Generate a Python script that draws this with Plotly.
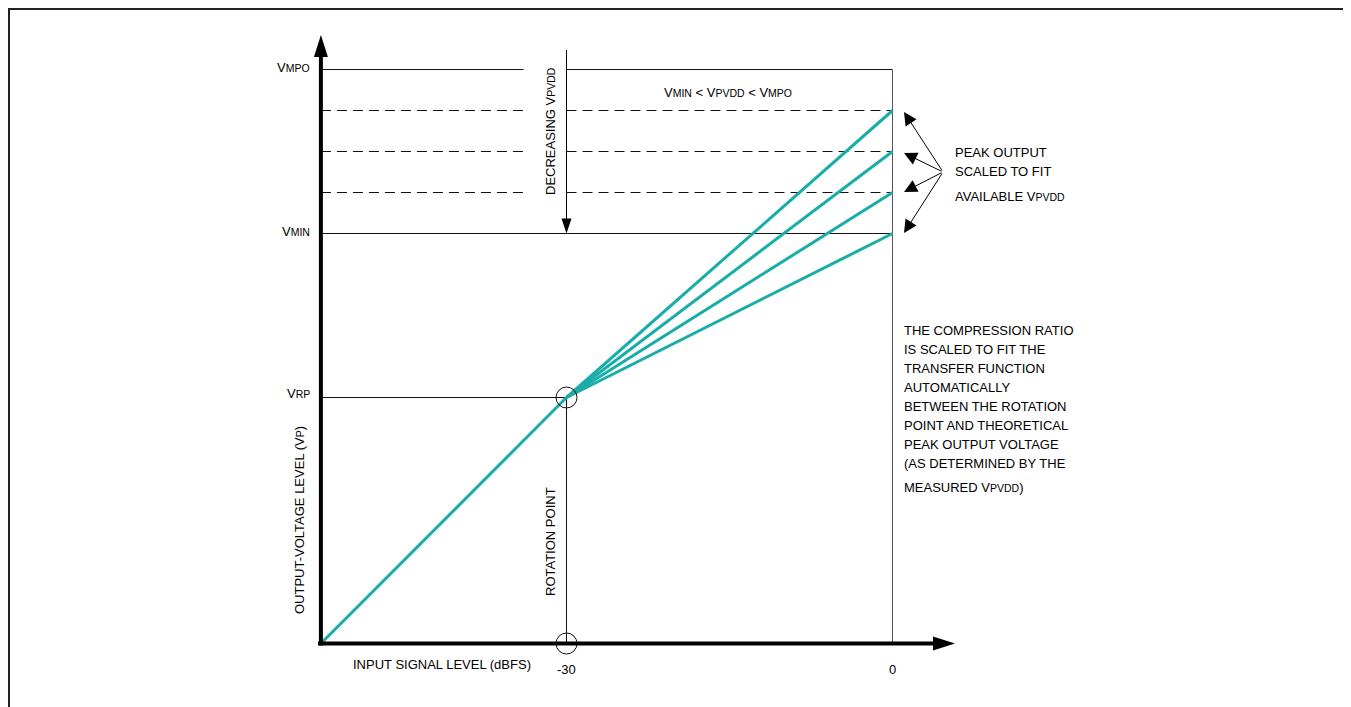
import plotly.graph_objects as go

# ---------------- data (schematic values) ----------------
input_origin_x = -52.6          # dBFS at the axes origin (schematic)
rotation_x = -30                # rotation point input level (dBFS)
full_scale_x = 0                # full-scale input (dBFS)
v_rp = 6                        # rotation-point output level
v_min = 10                      # V_MIN
v_pvdd_levels = [11, 12, 13]    # intermediate V_PVDD levels (dashed)
v_mpo = 14                      # V_MPO
peak_outputs = [10, 11, 12, 13] # peak output at 0 dBFS for each V_PVDD
x_tick_values = [-30, 0]
x_tick_labels = ["-30", "0"]

# ---------------- layout helpers (page pixel -> data) ----------------
OFF = 8                      # page body margin
W, H = 1351 - OFF, 707 - OFF
XPU = 326 / 30.0             # pixels per dBFS
YPU = 41.0                   # pixels per output unit
X30 = 566.5                  # page x of -30 dBFS
Y0 = 643.5                   # page y of zero output
def xd(px): return rotation_x + (px - X30) / XPU
def yd(py): return (Y0 - py) / YPU

FONT = "Liberation Sans, Arial, sans-serif"
TEAL = "#19ADA9"
INK = "#111111"
FS = 13

def sub(t):
    return '<span style="font-size:10.5px">%s</span>' % t

fig = go.Figure()

def seg(x, y, color=INK, width=1, dash="solid"):
    fig.add_trace(go.Scatter(x=x, y=y, mode="lines", hoverinfo="skip", showlegend=False,
                             line=dict(color=color, width=width, dash=dash)))

gap_l, gap_r = xd(523.5), rotation_x
# V_MPO (solid, with gap for the arrow label)
seg([input_origin_x, gap_l], [v_mpo, v_mpo])
seg([gap_r, full_scale_x], [v_mpo, v_mpo])
# dashed V_PVDD levels
for lv in v_pvdd_levels:
    seg([input_origin_x, gap_l], [lv, lv], dash="10px,6px")
    seg([gap_r, full_scale_x], [lv, lv], dash="10px,6px")
# V_MIN
seg([input_origin_x, full_scale_x], [v_min, v_min])
# V_RP
seg([input_origin_x, rotation_x], [v_rp, v_rp])
# verticals
seg([rotation_x, rotation_x], [0, v_rp])
seg([full_scale_x, full_scale_x], [0, v_mpo], color="#555555")
# decreasing-V_PVDD arrow shaft
seg([gap_r, gap_r], [yd(50), v_min + 14 / YPU], color="#000000")

# transfer functions
seg([input_origin_x, rotation_x], [0, v_rp], color=TEAL, width=3)
for p in peak_outputs:
    seg([rotation_x, full_scale_x], [v_rp, p], color=TEAL, width=3)

# thick axes
seg([input_origin_x, input_origin_x], [yd(645.5), yd(56)], color="#000000", width=4)
seg([xd(318), xd(934)], [0, 0], color="#000000", width=4)

# rotation point circles
fig.add_trace(go.Scatter(x=[rotation_x, rotation_x], y=[v_rp, 0], mode="markers",
                         hoverinfo="skip", showlegend=False,
                         marker=dict(symbol="circle-open", size=21,
                                     line=dict(color=INK, width=1), color=INK)))

ann = []
def arrow(x, y, ax, ay, width=1, size=1.0, head=2):
    ann.append(dict(x=x, y=y, ax=ax, ay=ay, xref="x", yref="y", axref="x", ayref="y",
                    text="", showarrow=True, arrowhead=head, arrowwidth=width,
                    arrowsize=size, arrowcolor="#000000", standoff=0, startstandoff=0))

def text(x, y, t, xa="center", ya="middle", angle=0, size=FS):
    ann.append(dict(x=x, y=y, xref="x", yref="y", text=t, showarrow=False,
                    xanchor=xa, yanchor=ya, textangle=angle,
                    font=dict(family=FONT, size=size, color="#000000")))

# peak output arrows
hub_x, hub_y = xd(943), yd(172)
for py in [112, 153, 192, 233]:
    arrow(xd(904), yd(py), hub_x, hub_y, width=1, size=2.6)

# labels
text(xd(312), yd(67), "V" + sub("MPO"), xa="right")
text(xd(312), yd(231), "V" + sub("MIN"), xa="right")
text(xd(312), yd(393), "V" + sub("RP"), xa="right")
text(xd(728), yd(92), "V" + sub("MIN") + " &lt; V" + sub("PVDD") + " &lt; V" + sub("MPO"))
text(xd(550), yd(131), "DECREASING V" + sub("PVDD"), angle=-90)
text(xd(550), yd(542), "ROTATION POINT", angle=-90)
text(xd(299), yd(520), "OUTPUT-VOLTAGE LEVEL (V" + sub("P") + ")", angle=-90)
text(xd(442), yd(664), "INPUT SIGNAL LEVEL (dBFS)")
for v, lab in zip(x_tick_values, x_tick_labels):
    text(v, yd(669), lab)

for py, t in [(152, "PEAK OUTPUT"), (171, "SCALED TO FIT"), (196, "AVAILABLE V" + sub("PVDD"))]:
    text(xd(953), yd(py), t, xa="left")

comp_lines = ["THE COMPRESSION RATIO", "IS SCALED TO FIT THE", "TRANSFER FUNCTION",
              "AUTOMATICALLY", "BETWEEN THE ROTATION", "POINT AND THEORETICAL",
              "PEAK OUTPUT VOLTAGE", "(AS DETERMINED BY THE", "MEASURED V" + sub("PVDD") + ")"]
comp_y = [330, 349, 368, 387, 406, 425, 444, 463, 487]
for py, t in zip(comp_y, comp_lines):
    text(xd(902), yd(py), t, xa="left")

def head(xa, ya, path):
    return dict(type="path", xref="x", yref="y", xsizemode="pixel", ysizemode="pixel",
                xanchor=xa, yanchor=ya, path=path, fillcolor="#000000",
                line=dict(width=0), layer="above")

shapes = [
    # y-axis arrowhead (tip up)
    head(input_origin_x, yd(35), "M0,0 L-7,-22 L7,-22 Z"),
    # x-axis arrowhead (tip right)
    head(xd(955), 0, "M0,0 L-22,7 L-22,-7 Z"),
    # decreasing arrow head (tip down)
    head(gap_r, v_min, "M0,0 L-5,15 L5,15 Z"),
    # outer frame
    dict(type="rect", xref="paper", yref="paper",
         x0=1 / W, x1=(1347 - OFF) / W, y0=-0.02, y1=1 - 1 / H,
         line=dict(color="#222222", width=2)),
]

fig.update_layout(
    width=W, height=H, margin=dict(l=0, r=0, t=0, b=0),
    paper_bgcolor="white", plot_bgcolor="white",
    xaxis=dict(range=[xd(OFF), xd(OFF + W)], visible=False, fixedrange=True),
    yaxis=dict(range=[yd(OFF + H), yd(OFF)], visible=False, fixedrange=True),
    annotations=ann,
    shapes=shapes,
)

fig.write_html("out.html")
